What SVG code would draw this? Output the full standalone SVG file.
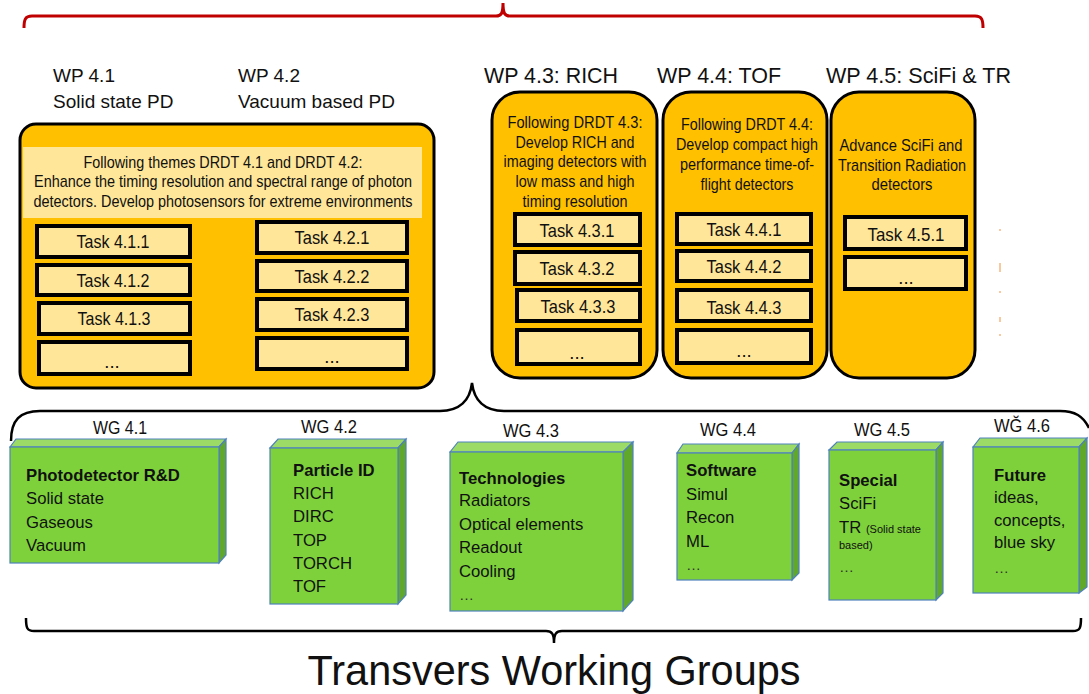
<svg xmlns="http://www.w3.org/2000/svg" width="1089" height="694" viewBox="0 0 1089 694">
  <style>
    text { font-family: "Liberation Sans", Arial, sans-serif; fill: #111; }
    .hdr { font-size: 19px; }
    .hdr2 { font-size: 22px; }
    .wpbox { fill: #FFC000; stroke: #000; stroke-width: 3; }
    .panel { fill: #FFE699; }
    .task { fill: #FFE699; stroke: #000; stroke-width: 4; }
    .tt { font-size: 18.5px; text-anchor: middle; }
    .desc { font-size: 17px; text-anchor: middle; }
    .front { fill: #7ED13B; stroke: #4F81BD; stroke-width: 1.2; }
    .top { fill: #9CDC66; stroke: #4F81BD; stroke-width: 1.2; }
    .side { fill: #5FA82C; stroke: #4F81BD; stroke-width: 1.2; }
    .wgl { font-size: 18px; text-anchor: middle; }
    .body { font-size: 16.7px; }
    .bold { font-size: 16.7px; font-weight: bold; }
    .ell { font-size: 15px; fill: #333; }
    .brace { fill: none; stroke: #000; stroke-width: 2.5; }
  </style>

  <!-- top bracket over all work packages -->
  <path d="M24 28 C24 20 25 16 32 16 L496 16 C501 16 503 14 503 3 C503 14 505 16 510 16 L975 16 C982 16 983 20 983 28" fill="none" stroke="#C00000" stroke-width="3"/>

  <!-- work package headers -->
  <text class="hdr" x="53" y="82">WP 4.1</text>
  <text class="hdr" x="53" y="108">Solid state PD</text>
  <text class="hdr" x="238" y="82">WP 4.2</text>
  <text class="hdr" x="238" y="108">Vacuum based PD</text>
  <text class="hdr2" x="484" y="83" textLength="134" lengthAdjust="spacingAndGlyphs">WP 4.3: RICH</text>
  <text class="hdr2" x="657" y="83" textLength="124" lengthAdjust="spacingAndGlyphs">WP 4.4: TOF</text>
  <text class="hdr2" x="826" y="83" textLength="185" lengthAdjust="spacingAndGlyphs">WP 4.5: SciFi &amp; TR</text>

  <!-- WP 4.1 / 4.2 -->
  <g id="wp41-42">
    <rect class="wpbox" x="20" y="124" width="414" height="264" rx="16"/>
    <rect class="panel" x="23" y="147" width="399" height="71"/>
    <text class="desc" x="223" y="168" font-size="15.5" textLength="279" lengthAdjust="spacingAndGlyphs">Following themes DRDT 4.1 and DRDT 4.2:</text>
    <text class="desc" x="223" y="187" font-size="15.5" textLength="378" lengthAdjust="spacingAndGlyphs">Enhance the timing resolution and spectral range of photon</text>
    <text class="desc" x="223" y="207" font-size="15.5" textLength="379" lengthAdjust="spacingAndGlyphs">detectors. Develop photosensors for extreme environments</text>
    <rect class="task" x="37" y="226" width="153" height="31"/>
    <text class="tt" x="113" y="248" textLength="73" lengthAdjust="spacingAndGlyphs">Task 4.1.1</text>
    <rect class="task" x="37" y="265" width="153" height="30"/>
    <text class="tt" x="113" y="287" textLength="73" lengthAdjust="spacingAndGlyphs">Task 4.1.2</text>
    <rect class="task" x="39" y="303" width="151" height="31"/>
    <text class="tt" x="114" y="325" textLength="73" lengthAdjust="spacingAndGlyphs">Task 4.1.3</text>
    <rect class="task" x="39" y="342" width="151" height="32"/>
    <text class="tt" x="112" y="368">...</text>
    <rect class="task" x="257" y="222" width="150" height="31"/>
    <text class="tt" x="332" y="244" textLength="75" lengthAdjust="spacingAndGlyphs">Task 4.2.1</text>
    <rect class="task" x="257" y="261" width="150" height="30"/>
    <text class="tt" x="332" y="283" textLength="75" lengthAdjust="spacingAndGlyphs">Task 4.2.2</text>
    <rect class="task" x="257" y="299" width="150" height="31"/>
    <text class="tt" x="332" y="321" textLength="75" lengthAdjust="spacingAndGlyphs">Task 4.2.3</text>
    <rect class="task" x="257" y="338" width="150" height="31"/>
    <text class="tt" x="332" y="363">...</text>
  </g>

  <!-- WP 4.3 RICH -->
  <g id="wp43">
    <rect class="wpbox" x="492" y="92" width="165" height="286" rx="28"/>
    <text class="desc" x="575" y="128" textLength="135" lengthAdjust="spacingAndGlyphs">Following DRDT 4.3:</text>
    <text class="desc" x="575" y="148" textLength="119" lengthAdjust="spacingAndGlyphs">Develop RICH and</text>
    <text class="desc" x="575" y="167" textLength="143" lengthAdjust="spacingAndGlyphs">imaging detectors with</text>
    <text class="desc" x="575" y="187" textLength="119" lengthAdjust="spacingAndGlyphs">low mass and high</text>
    <text class="desc" x="575" y="207" textLength="105" lengthAdjust="spacingAndGlyphs">timing resolution</text>
    <rect class="task" x="515" y="214" width="125" height="31"/>
    <text class="tt" x="577" y="237" textLength="75" lengthAdjust="spacingAndGlyphs">Task 4.3.1</text>
    <rect class="task" x="515" y="252" width="125" height="32"/>
    <text class="tt" x="577" y="275" textLength="75" lengthAdjust="spacingAndGlyphs">Task 4.3.2</text>
    <rect class="task" x="517" y="290" width="123" height="31"/>
    <text class="tt" x="578" y="313" textLength="75" lengthAdjust="spacingAndGlyphs">Task 4.3.3</text>
    <rect class="task" x="517" y="330" width="123" height="34"/>
    <text class="tt" x="577" y="359">...</text>
  </g>

  <!-- WP 4.4 TOF -->
  <g id="wp44">
    <rect class="wpbox" x="663" y="92" width="164" height="286" rx="28"/>
    <text class="desc" x="747" y="130" textLength="132" lengthAdjust="spacingAndGlyphs">Following DRDT 4.4:</text>
    <text class="desc" x="747" y="150" textLength="142" lengthAdjust="spacingAndGlyphs">Develop compact high</text>
    <text class="desc" x="747" y="170" textLength="134" lengthAdjust="spacingAndGlyphs">performance time-of-</text>
    <text class="desc" x="747" y="190" textLength="93" lengthAdjust="spacingAndGlyphs">flight detectors</text>
    <rect class="task" x="677" y="214" width="134" height="30"/>
    <text class="tt" x="744" y="236" textLength="75" lengthAdjust="spacingAndGlyphs">Task 4.4.1</text>
    <rect class="task" x="677" y="251" width="134" height="30"/>
    <text class="tt" x="744" y="273" textLength="75" lengthAdjust="spacingAndGlyphs">Task 4.4.2</text>
    <rect class="task" x="677" y="290" width="134" height="31"/>
    <text class="tt" x="744" y="314" textLength="75" lengthAdjust="spacingAndGlyphs">Task 4.4.3</text>
    <rect class="task" x="677" y="330" width="134" height="33"/>
    <text class="tt" x="744" y="357">...</text>
  </g>

  <!-- WP 4.5 SciFi & TR -->
  <g id="wp45">
    <rect class="wpbox" x="831" y="92" width="144" height="286" rx="28"/>
    <text class="desc" x="901" y="151" textLength="123" lengthAdjust="spacingAndGlyphs">Advance SciFi and</text>
    <text class="desc" x="902" y="171" textLength="128" lengthAdjust="spacingAndGlyphs">Transition Radiation</text>
    <text class="desc" x="902" y="190" textLength="61" lengthAdjust="spacingAndGlyphs">detectors</text>
    <rect class="task" x="845" y="217" width="121" height="32"/>
    <text class="tt" x="906" y="241" textLength="77" lengthAdjust="spacingAndGlyphs">Task 4.5.1</text>
    <rect class="task" x="845" y="257" width="121" height="32"/>
    <text class="tt" x="906" y="284">...</text>
  </g>

  <!-- faint dashed guide -->
  <path d="M1000 229v2 M1000 263v9 M1000 291v2 M1000 317v5 M1000 334v2" stroke="#F4A460" stroke-width="1.2" fill="none"/>

  <!-- braces linking packages and working groups -->
  <g id="connectors">
    <path class="brace" d="M11 441 C11 420 20 411 40 411 L440 411 C460 411 470 400 472 383 C474 400 484 411 504 411 L1060 411 C1075 411 1083 416 1089 428"/>
    <path class="brace" d="M26 618 C26 628 27 631 34 631 L546 631 C552 631 554 634 554 643 C554 634 556 631 562 631 L1073 631 C1080 631 1081 628 1081 618"/>
  </g>

  <!-- working groups -->
  <g id="wg41">
    <text class="wgl" x="120" y="434" textLength="54" lengthAdjust="spacingAndGlyphs">WG 4.1</text>
    <polygon class="top" points="10,447 16,439 226,439 219,447"/>
    <polygon class="side" points="219,447 226,439 226,555 219,563"/>
    <rect class="front" x="10" y="447" width="209" height="116"/>
    <text class="bold" x="26" y="481">Photodetector R&amp;D</text>
    <text class="body" x="26" y="504">Solid state</text>
    <text class="body" x="26" y="528">Gaseous</text>
    <text class="body" x="26" y="551">Vacuum</text>
  </g>

  <g id="wg42">
    <text class="wgl" x="329" y="433" textLength="56" lengthAdjust="spacingAndGlyphs">WG 4.2</text>
    <polygon class="top" points="270,448 278,439 406,439 398,448"/>
    <polygon class="side" points="398,448 406,439 406,595 398,604"/>
    <rect class="front" x="270" y="448" width="128" height="156"/>
    <text class="bold" x="293" y="476">Particle ID</text>
    <text class="body" x="293" y="499">RICH</text>
    <text class="body" x="293" y="522">DIRC</text>
    <text class="body" x="293" y="546">TOP</text>
    <text class="body" x="293" y="569">TORCH</text>
    <text class="body" x="293" y="592">TOF</text>
  </g>

  <g id="wg43">
    <text class="wgl" x="531" y="437" textLength="56" lengthAdjust="spacingAndGlyphs">WG 4.3</text>
    <polygon class="top" points="450,452 458,442 633,442 623,452"/>
    <polygon class="side" points="623,452 633,442 633,600 623,611"/>
    <rect class="front" x="450" y="452" width="173" height="159"/>
    <text class="bold" x="459" y="484">Technologies</text>
    <text class="body" x="459" y="506">Radiators</text>
    <text class="body" x="459" y="530">Optical elements</text>
    <text class="body" x="459" y="553">Readout</text>
    <text class="body" x="459" y="577">Cooling</text>
    <text class="ell" x="459" y="600">…</text>
  </g>

  <g id="wg44">
    <text class="wgl" x="728" y="436" textLength="56" lengthAdjust="spacingAndGlyphs">WG 4.4</text>
    <polygon class="top" points="677,453 683,444 799,444 792,453"/>
    <polygon class="side" points="792,453 799,444 799,573 792,580"/>
    <rect class="front" x="677" y="453" width="115" height="127"/>
    <text class="bold" x="686" y="476">Software</text>
    <text class="body" x="686" y="500">Simul</text>
    <text class="body" x="686" y="523">Recon</text>
    <text class="body" x="686" y="547">ML</text>
    <text class="ell" x="686" y="570">…</text>
  </g>

  <g id="wg45">
    <text class="wgl" x="882" y="436" textLength="56" lengthAdjust="spacingAndGlyphs">WG 4.5</text>
    <polygon class="top" points="829,450 837,442 943,442 936,450"/>
    <polygon class="side" points="936,450 943,442 943,593 936,600"/>
    <rect class="front" x="829" y="450" width="107" height="150"/>
    <text class="bold" x="839" y="486">Special</text>
    <text class="body" x="839" y="509">SciFi</text>
    <text class="body" x="839" y="533">TR <tspan font-size="11">(Solid state</tspan></text>
    <text x="839" y="549" font-size="11">based)</text>
    <text class="ell" x="839" y="572">…</text>
  </g>

  <g id="wg46">
    <text class="wgl" x="1022" y="432" textLength="56" lengthAdjust="spacingAndGlyphs">WĞ 4.6</text>
    <polygon class="top" points="973,447 980,438 1087,438 1079,447"/>
    <polygon class="side" points="1079,447 1087,438 1087,587 1079,593"/>
    <rect class="front" x="973" y="447" width="106" height="146"/>
    <text class="bold" x="994" y="481">Future</text>
    <text class="body" x="994" y="503">ideas,</text>
    <text class="body" x="994" y="526">concepts,</text>
    <text class="body" x="994" y="548">blue sky</text>
    <text class="ell" x="994" y="573">…</text>
  </g>

  <text x="554" y="685" text-anchor="middle" font-family="'Open Sans', Lato, sans-serif" font-weight="300" font-size="42" textLength="493" lengthAdjust="spacingAndGlyphs">Transvers Working Groups</text>
</svg>
